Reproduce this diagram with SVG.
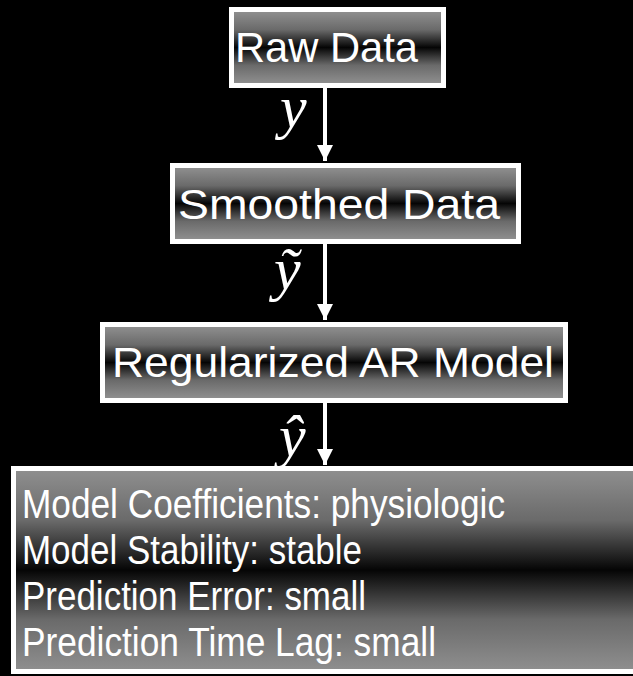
<svg xmlns="http://www.w3.org/2000/svg" width="633" height="676" viewBox="0 0 633 676">
<defs>
<linearGradient id="g" x1="0" y1="0" x2="0" y2="1">
<stop offset="0" stop-color="#8e8e8e"/>
<stop offset="0.25" stop-color="#6a6a6a"/>
<stop offset="0.5" stop-color="#050505"/>
<stop offset="0.75" stop-color="#6a6a6a"/>
<stop offset="1" stop-color="#8e8e8e"/>
</linearGradient>
<marker id="ah" markerWidth="4" markerHeight="4" refX="4" refY="2" orient="auto" markerUnits="strokeWidth">
<path d="M0,0 L4,2 L0,4 Z" fill="#fff"/>
</marker>
</defs>
<style>
.frame{fill:#fff}
.fill{fill:url(#g)}
.lbl{font-family:"Liberation Sans",Arial,sans-serif;font-size:43px;fill:#fff}
.info{font-family:"Liberation Sans",Arial,sans-serif;font-size:41px;fill:#fff}
.math{font-family:"Liberation Serif","Times New Roman",serif;font-style:italic;font-size:60px;fill:#fff}
.conn{stroke:#fff;stroke-width:4;fill:none;marker-end:url(#ah)}
</style>
<rect width="633" height="676" fill="#000"/>
<g id="raw">
<rect class="frame" x="229" y="7" width="217" height="81"/>
<rect class="fill" x="234" y="12" width="207" height="71"/>
<text class="lbl" x="235" y="62" textLength="183" lengthAdjust="spacingAndGlyphs">Raw Data</text>
</g>
<g id="smoothed">
<rect class="frame" x="170" y="163" width="351" height="81"/>
<rect class="fill" x="175" y="168" width="341" height="71"/>
<text class="lbl" x="178" y="219" textLength="322" lengthAdjust="spacingAndGlyphs">Smoothed Data</text>
</g>
<g id="ar">
<rect class="frame" x="100" y="322" width="468" height="81"/>
<rect class="fill" x="105" y="327" width="458" height="71"/>
<text class="lbl" x="112" y="377" textLength="442" lengthAdjust="spacingAndGlyphs">Regularized AR Model</text>
</g>
<g id="results">
<rect class="frame" x="11" y="466" width="630" height="208"/>
<rect class="fill" x="16" y="471" width="620" height="198"/>
<text class="info" x="22" y="518" textLength="483" lengthAdjust="spacingAndGlyphs">Model Coefficients: physiologic</text>
<text class="info" x="22" y="564" textLength="340" lengthAdjust="spacingAndGlyphs">Model Stability: stable</text>
<text class="info" x="22" y="610" textLength="344" lengthAdjust="spacingAndGlyphs">Prediction Error: small</text>
<text class="info" x="22" y="656" textLength="414" lengthAdjust="spacingAndGlyphs">Prediction Time Lag: small</text>
</g>
<g id="connectors">
<line class="conn" x1="325" y1="88" x2="325" y2="161"/>
<line class="conn" x1="325" y1="244" x2="325" y2="320"/>
<line class="conn" x1="325" y1="403" x2="325" y2="465"/>
<text class="math" x="280" y="127">y</text>
<text class="math" x="274" y="289">ỹ</text>
<text class="math" x="279" y="456">ŷ</text>
</g>
</svg>
